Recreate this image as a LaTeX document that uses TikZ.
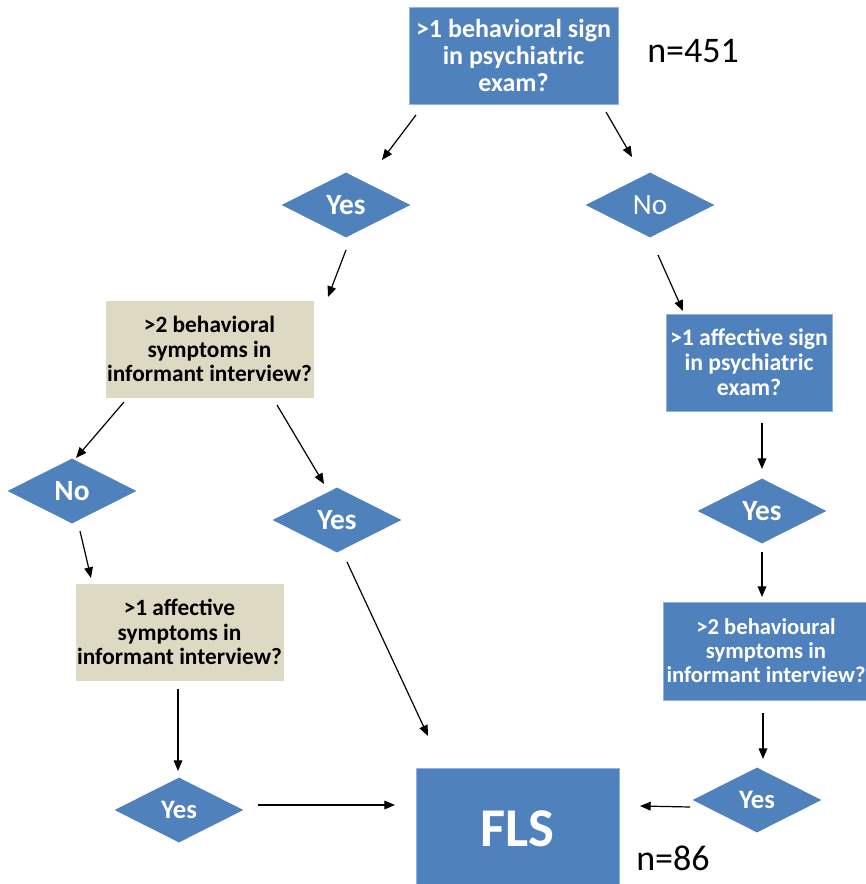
\documentclass[tikz,border=0pt]{standalone}
\usepackage{fontspec}
\setmainfont{Carlito}
\usetikzlibrary{shapes.geometric,arrows.meta}
\newdimen\pxu \pxu=0.75pt
\definecolor{boxblue}{HTML}{4F81BD}
\definecolor{boxedge}{HTML}{8DB3E2}
\definecolor{boxtan}{HTML}{DDD9C3}
\tikzset{
  bluebox/.style={rectangle, fill=boxblue, draw=boxedge, line width=0.6pt,
    text=white, font=\bfseries\fontsize{19.5}{20.25}\selectfont, align=center, inner sep=0pt},
  tanbox/.style={rectangle, fill=boxtan, draw=white, line width=0.6pt,
    text=black, font=\bfseries\fontsize{17.5}{18.4}\selectfont, align=center, inner sep=0pt},
  choice/.style={diamond, fill=boxblue, draw=none, inner sep=0pt,
    minimum width=129\pxu, minimum height=65\pxu, text=white,
    font=\bfseries\fontsize{22}{24}\selectfont},
  count/.style={font=\fontsize{27}{30}\selectfont, text=black, inner sep=0pt},
  flow/.style={-{Triangle[length=8pt,width=6.5pt]}, line width=0.9pt, black},
}
\begin{document}
\begin{tikzpicture}[x=0.75pt, y=-0.75pt]
\useasboundingbox (0,0) rectangle (866,884);
\clip (0,0) rectangle (866,884);

% decision boxes
\node[bluebox, minimum width=209\pxu, minimum height=97\pxu] (q1) at (513.5,55.5)
  {>1 behavioral sign\\in psychiatric\\exam?};
\node[tanbox, minimum width=209\pxu, minimum height=98\pxu] (q2) at (209.5,349)
  {>2 behavioral\\symptoms in\\informant interview?};
\node[bluebox, font=\bfseries\fontsize{17.8}{18.75}\selectfont,
  minimum width=166\pxu, minimum height=97\pxu] (q3) at (749,362.5)
  {>1 affective sign\\in psychiatric\\exam?};
\node[tanbox, minimum width=209\pxu, minimum height=98\pxu] (q4) at (179.5,632)
  {>1 affective\\symptoms in\\informant interview?};
\node[bluebox, font=\bfseries\fontsize{17}{18}\selectfont,
  minimum width=206\pxu, minimum height=98\pxu] (q5) at (766,651)
  {>2 behavioural\\symptoms in\\informant interview?};
\node[bluebox, font=\bfseries\fontsize{41}{44}\selectfont,
  minimum width=203\pxu, minimum height=122\pxu] (fls) at (517.5,829) {FLS};

% answers
\node[choice] (y1) at (346,205) {Yes};
\node[choice, font=\fontsize{22}{24}\selectfont] (n1) at (650,205) {No};
\node[choice] (n2) at (72,491) {No};
\node[choice] (y2) at (337,520) {Yes};
\node[choice] (y3) at (762,511) {Yes};
\node[choice, font=\bfseries\fontsize{20}{22}\selectfont] (y4) at (179,810) {Yes};
\node[choice, font=\bfseries\fontsize{20}{22}\selectfont] (y5) at (757,800) {Yes};

% sample sizes
\node[count, anchor=west] (nall) at (647,51) {n=451};
\node[count, anchor=west] (nfls) at (636,858) {n=86};

% connector end points
\coordinate (a1s) at (416,115); \coordinate (a1e) at (382,160);
\coordinate (a2s) at (606,112); \coordinate (a2e) at (632,157);
\coordinate (a3s) at (346,250); \coordinate (a3e) at (328,297);
\coordinate (a4s) at (658,255); \coordinate (a4e) at (683,311);
\coordinate (a5s) at (124,402); \coordinate (a5e) at (76,458);
\coordinate (a6s) at (277,405); \coordinate (a6e) at (324,484);
\coordinate (a7s) at (80,531);  \coordinate (a7e) at (91,578);
\coordinate (a8s) at (347,562); \coordinate (a8e) at (428,736);
\coordinate (a9s) at (762,423); \coordinate (a9e) at (762,469);
\coordinate (a10s) at (762,552); \coordinate (a10e) at (762,597);
\coordinate (a11s) at (178,689); \coordinate (a11e) at (178,771);
\coordinate (a12s) at (258,805); \coordinate (a12e) at (395,805);
\coordinate (a13s) at (690,807); \coordinate (a13e) at (640,806);
\coordinate (a14s) at (763,713); \coordinate (a14e) at (763,759);

\foreach \k in {1,...,14} \draw[flow] (a\k s) -- (a\k e);
\end{tikzpicture}
\end{document}
